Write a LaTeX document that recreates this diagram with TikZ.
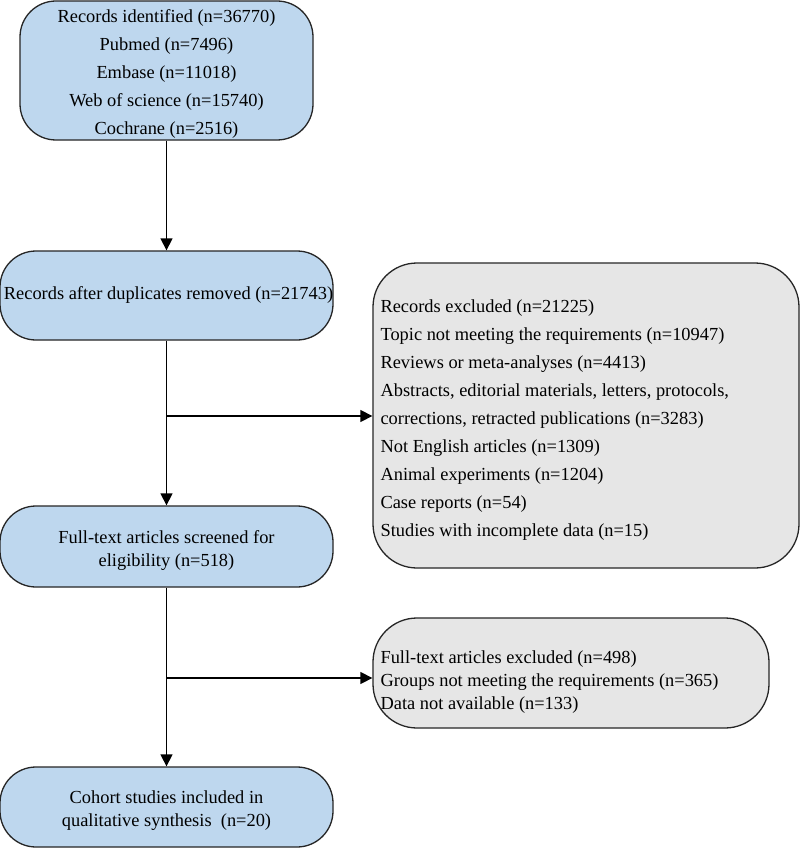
\documentclass[tikz,border=0pt]{standalone}
\usepackage{fontspec}
\setmainfont{Liberation Serif}
\usetikzlibrary{arrows.meta}
\definecolor{boxblue}{RGB}{190,215,238}
\definecolor{boxgrey}{RGB}{230,230,230}
\begin{document}
\begin{tikzpicture}[x=1pt,y=-1pt,
  base/.style={draw=black!85, line width=1.3pt, inner sep=0pt},
  bluebox/.style={base, fill=boxblue, rounded corners=36pt},
  greybox/.style={base, fill=boxgrey, rounded corners=44pt},
  ctxt/.style={inner sep=0pt, align=center},
  ltxt/.style={inner sep=0pt, align=left},
  bigtxt/.style={font=\fontsize{18.4}{28}\selectfont},
  smalltxt/.style={font=\fontsize{18.4}{23}\selectfont},
  arr/.style={-{Triangle[length=12pt,width=12pt]}, line width=1.3pt, draw=black}]
\useasboundingbox (0,0) rectangle (800,848);
\fill[white] (0,0) rectangle (800,848);

% boxes
\node[bluebox, minimum width=293pt, minimum height=139pt] (b1) at (166.5,70.5) {};
\node[bluebox, minimum width=333pt, minimum height=89pt] (b2) at (166.5,295.5) {};
\node[bluebox, minimum width=333pt, minimum height=81pt] (b3) at (166.5,546.5) {};
\node[bluebox, minimum width=333pt, minimum height=80pt] (b4) at (166.5,807) {};
\node[greybox, minimum width=426pt, minimum height=305pt] (g1) at (586,415.5) {};
\node[greybox, minimum width=396pt, minimum height=110pt] (g2) at (571,673) {};

% texts
\node[ctxt, bigtxt] (t1) at ([yshift=-3pt]b1.center)
  {Records identified (n=36770)\\Pubmed (n=7496)\\Embase (n=11018)\\Web of science (n=15740)\\Cochrane (n=2516)};
\node[ctxt, bigtxt] (t2) at ([xshift=2pt,yshift=1pt]b2.center)
  {Records after duplicates removed (n=21743)};
\node[ctxt, smalltxt] (t3) at ([yshift=-4pt]b3.center)
  {Full-text articles screened for\\eligibility (n=518)};
\node[ctxt, smalltxt] (t4) at ([yshift=-4pt]b4.center)
  {Cohort studies included in\\qualitative synthesis\ \ (n=20)};
\node[ltxt, bigtxt, anchor=west] (t5) at ([xshift=8pt,yshift=-5pt]g1.west)
  {Records excluded (n=21225)\\
   Topic not meeting the requirements (n=10947)\\
   Reviews or meta-analyses (n=4413)\\
   Abstracts, editorial materials, letters, protocols,\\
   corrections, retracted publications (n=3283)\\
   Not English articles (n=1309)\\
   Animal experiments (n=1204)\\
   Case reports (n=54)\\
   Studies with incomplete data (n=15)};
\node[ltxt, smalltxt, anchor=west] (t6) at ([xshift=8pt,yshift=-9pt]g2.west)
  {Full-text articles excluded (n=498)\\
   Groups not meeting the requirements (n=365)\\
   Data not available (n=133)};

% connectors
\coordinate (j1) at (166.5,416);
\coordinate (j2) at (166.5,678);
\draw[arr] (b1.south) -- (b2.north);
\draw[arr] (b2.south) -- (b3.north);
\draw[arr] (j1) -- (j1 -| g1.west);
\draw[arr] (b3.south) -- (b4.north);
\draw[arr] (j2) -- (j2 -| g2.west);
\end{tikzpicture}
\end{document}
